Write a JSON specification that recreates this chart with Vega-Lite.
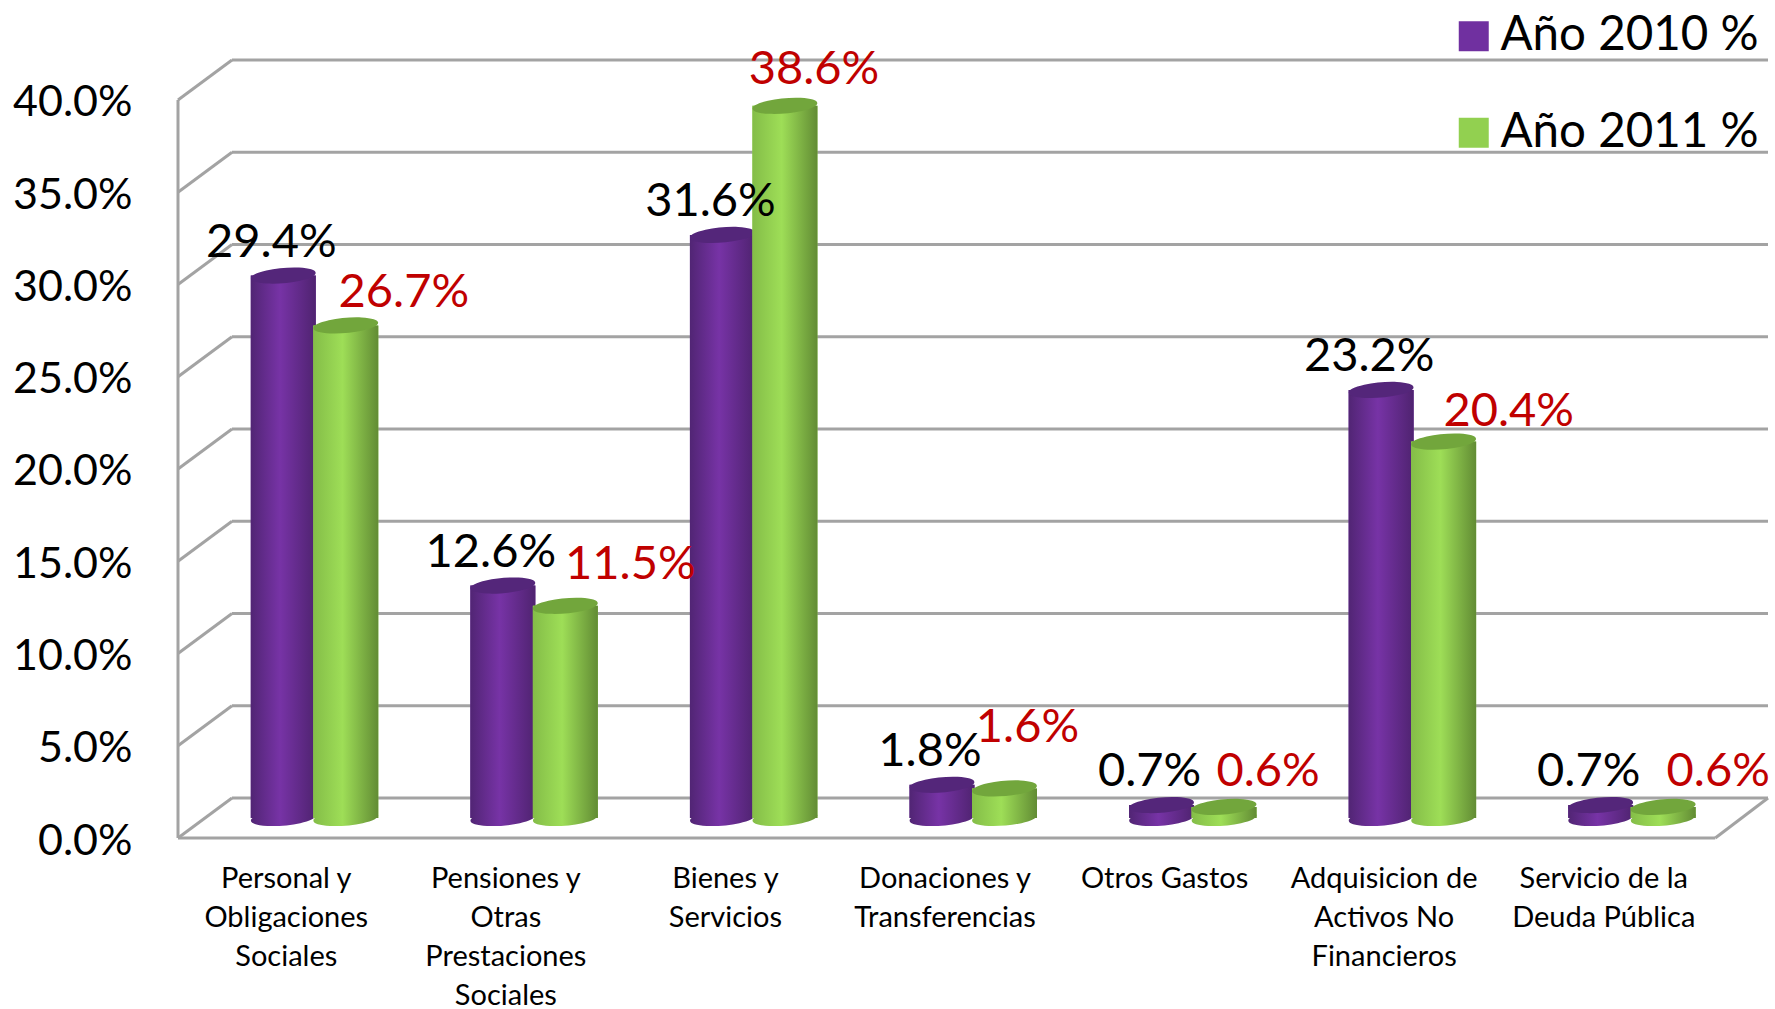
{
"$schema":"https://vega.github.io/schema/vega-lite/v6.json",
"width":1590,"height":778.5,
"autosize":"none",
"padding":{"left":178,"top":59.5,"right":7,"bottom":171},
"background":"white",
"config":{"view":{"stroke":null},"font":"Lato"},
"datasets":{
"valores":[
{"categoria":"Personal y|Obligaciones|Sociales","serie":"Año 2010 %","valor":0.294},
{"categoria":"Pensiones y|Otras|Prestaciones|Sociales","serie":"Año 2010 %","valor":0.126},
{"categoria":"Bienes y|Servicios","serie":"Año 2010 %","valor":0.316},
{"categoria":"Donaciones y|Transferencias","serie":"Año 2010 %","valor":0.018},
{"categoria":"Otros Gastos","serie":"Año 2010 %","valor":0.007},
{"categoria":"Adquisicion de|Activos No|Financieros","serie":"Año 2010 %","valor":0.232},
{"categoria":"Servicio de la|Deuda Pública","serie":"Año 2010 %","valor":0.007},
{"categoria":"Personal y|Obligaciones|Sociales","serie":"Año 2011 %","valor":0.267},
{"categoria":"Pensiones y|Otras|Prestaciones|Sociales","serie":"Año 2011 %","valor":0.115},
{"categoria":"Bienes y|Servicios","serie":"Año 2011 %","valor":0.386},
{"categoria":"Donaciones y|Transferencias","serie":"Año 2011 %","valor":0.016},
{"categoria":"Otros Gastos","serie":"Año 2011 %","valor":0.006},
{"categoria":"Adquisicion de|Activos No|Financieros","serie":"Año 2011 %","valor":0.204},
{"categoria":"Servicio de la|Deuda Pública","serie":"Año 2011 %","valor":0.006}
],
"paredes":[
{"x":0.2459,"x2":7.24,"y":0.02168,"y2":0.02168},
{"x":0.2459,"x2":7.24,"y":0.07168,"y2":0.07168},
{"x":0.2459,"x2":7.24,"y":0.12168,"y2":0.12168},
{"x":0.2459,"x2":7.24,"y":0.17168,"y2":0.17168},
{"x":0.2459,"x2":7.24,"y":0.22168,"y2":0.22168},
{"x":0.2459,"x2":7.24,"y":0.27168,"y2":0.27168},
{"x":0.2459,"x2":7.24,"y":0.32168,"y2":0.32168},
{"x":0.2459,"x2":7.24,"y":0.37168,"y2":0.37168},
{"x":0.2459,"x2":7.24,"y":0.42168,"y2":0.42168},
{"x":0,"x2":0.2459,"y":0,"y2":0.02168},
{"x":0,"x2":0.2459,"y":0.05,"y2":0.07168},
{"x":0,"x2":0.2459,"y":0.10,"y2":0.12168},
{"x":0,"x2":0.2459,"y":0.15,"y2":0.17168},
{"x":0,"x2":0.2459,"y":0.20,"y2":0.22168},
{"x":0,"x2":0.2459,"y":0.25,"y2":0.27168},
{"x":0,"x2":0.2459,"y":0.30,"y2":0.32168},
{"x":0,"x2":0.2459,"y":0.35,"y2":0.37168},
{"x":0,"x2":0.2459,"y":0.40,"y2":0.42168},
{"x":0,"x2":0,"y":0,"y2":0.40},
{"x":0,"x2":7,"y":0,"y2":0},
{"x":7,"x2":7.24,"y":0,"y2":0.02168}
]},
"resolve":{"scale":{"x":"independent","y":"independent"},"axis":{"x":"independent","y":"independent"}},
"layer":[
{"data":{"name":"paredes"},
 "mark":{"type":"rule","color":"#a3a3a3","strokeWidth":3},
 "encoding":{
  "x":{"field":"x","type":"quantitative","axis":null,"scale":{"domain":[0,7.24],"nice":false,"zero":false}},
  "x2":{"field":"x2"},
  "y":{"field":"y","type":"quantitative","scale":{"domain":[0,0.42195],"nice":false},
   "axis":{"title":null,"values":[0,0.05,0.10,0.15,0.20,0.25,0.30,0.35,0.40],"format":".1%","grid":false,"domain":false,"ticks":false,"labelFont":"Lato","labelFontSize":43,"labelColor":"#000000","labelPadding":46,"labelFlush":false,"labelOverlap":false,"labelOffset":3}},
  "y2":{"field":"y2"}}},
{"data":{"name":"valores"},"transform":[{"filter":"datum.serie==='Año 2010 %'"}],
 "mark":{"type":"bar","width":65},
 "encoding":{
  "x":{"field":"categoria","type":"nominal","sort":null,"scale":{"range":[-4.5,1532.5],"paddingInner":0,"paddingOuter":0},
   "axis":{"title":null,"orient":"bottom","domain":false,"ticks":false,"grid":false,"labelAngle":0,"labelAlign":"center","labelBaseline":"top","labelOffset":3,"labelPadding":26,"labelFont":"Lato","labelFontSize":29,"labelColor":"#000000","labelLineHeight":39,"labelLimit":400,"labelOverlap":false,"labelExpr":"split(datum.label,'|')"}},
  "y":{"field":"valor","type":"quantitative","axis":null,"scale":{"domain":[-0.01084,0.41111],"nice":false,"zero":false}},
  "color":{"field":"serie","type":"nominal","scale":{"domain":["Año 2010 %","Año 2011 %"],"range":["#7030a0","#92d050"]},
   "legend":{"title":null,"orient":"none","legendX":1272,"legendY":-47,"symbolType":"square","symbolSize":900,"symbolStrokeWidth":0,"labelFont":"Lato","labelFontSize":47.5,"labelColor":"#000000","labelLimit":400,"rowPadding":47.5,"labelOffset":3,"symbolOpacity":1}}}},
{"data":{"name":"valores"},"transform":[{"filter":"datum.serie==='Año 2010 %'"}],
 "mark":{"type":"point","filled":true,"opacity":1,"size":4225,"shape":"M-0.996,0.087 A1,0.23 -5 1 1 0.996,-0.087 A1,0.23 -5 1 1 -0.996,0.087 Z",
  "fill":{"x1":0,"y1":0,"x2":1,"y2":0,"gradient":"linear","stops":[{"offset":0,"color":"#512574"},{"offset":0.45,"color":"#7733a6"},{"offset":1,"color":"#4f2370"}]}},
 "encoding":{
  "x":{"field":"categoria","type":"nominal","sort":null,"axis":null,"scale":{"type":"band","range":[-4.5,1532.5],"paddingInner":0,"paddingOuter":0}},
  "y":{"datum":0,"type":"quantitative","axis":null,"scale":{"domain":[-0.01084,0.41111],"nice":false,"zero":false}}}},
{"data":{"name":"valores"},"transform":[{"filter":"datum.serie==='Año 2010 %'"}],
 "mark":{"type":"bar","width":65,
  "color":{"x1":0,"y1":0,"x2":1,"y2":0,"gradient":"linear","stops":[{"offset":0,"color":"#512574"},{"offset":0.45,"color":"#7733a6"},{"offset":1,"color":"#4f2370"}]}},
 "encoding":{
  "x":{"field":"categoria","type":"nominal","sort":null,"axis":null,"scale":{"range":[-4.5,1532.5],"paddingInner":0,"paddingOuter":0}},
  "y":{"field":"valor","type":"quantitative","axis":null,"scale":{"domain":[-0.01084,0.41111],"nice":false,"zero":false}}}},
{"data":{"name":"valores"},"transform":[{"filter":"datum.serie==='Año 2010 %'"}],
 "mark":{"type":"point","filled":true,"opacity":1,"size":4225,"color":"#54267a","shape":"M-0.996,0.087 A1,0.23 -5 1 1 0.996,-0.087 A1,0.23 -5 1 1 -0.996,0.087 Z"},
 "encoding":{
  "x":{"field":"categoria","type":"nominal","sort":null,"axis":null,"scale":{"type":"band","range":[-4.5,1532.5],"paddingInner":0,"paddingOuter":0}},
  "y":{"field":"valor","type":"quantitative","axis":null,"scale":{"domain":[-0.01084,0.41111],"nice":false,"zero":false}}}},
{"data":{"name":"valores"},"transform":[{"filter":"datum.serie==='Año 2011 %'"}],
 "mark":{"type":"bar","width":65},
 "encoding":{
  "x":{"field":"categoria","type":"nominal","sort":null,"axis":null,"scale":{"range":[58,1595],"paddingInner":0,"paddingOuter":0}},
  "y":{"field":"valor","type":"quantitative","axis":null,"scale":{"domain":[-0.01084,0.41111],"nice":false,"zero":false}},
  "color":{"field":"serie","type":"nominal","scale":{"domain":["Año 2010 %","Año 2011 %"],"range":["#7030a0","#92d050"]}}}},
{"data":{"name":"valores"},"transform":[{"filter":"datum.serie==='Año 2011 %'"}],
 "mark":{"type":"point","filled":true,"opacity":1,"size":4225,"shape":"M-0.996,0.087 A1,0.23 -5 1 1 0.996,-0.087 A1,0.23 -5 1 1 -0.996,0.087 Z",
  "fill":{"x1":0,"y1":0,"x2":1,"y2":0,"gradient":"linear","stops":[{"offset":0,"color":"#84bd48"},{"offset":0.45,"color":"#9ede57"},{"offset":1,"color":"#628c34"}]}},
 "encoding":{
  "x":{"field":"categoria","type":"nominal","sort":null,"axis":null,"scale":{"type":"band","range":[58,1595],"paddingInner":0,"paddingOuter":0}},
  "y":{"datum":0,"type":"quantitative","axis":null,"scale":{"domain":[-0.01084,0.41111],"nice":false,"zero":false}}}},
{"data":{"name":"valores"},"transform":[{"filter":"datum.serie==='Año 2011 %'"}],
 "mark":{"type":"bar","width":65,
  "color":{"x1":0,"y1":0,"x2":1,"y2":0,"gradient":"linear","stops":[{"offset":0,"color":"#84bd48"},{"offset":0.45,"color":"#9ede57"},{"offset":1,"color":"#628c34"}]}},
 "encoding":{
  "x":{"field":"categoria","type":"nominal","sort":null,"axis":null,"scale":{"range":[58,1595],"paddingInner":0,"paddingOuter":0}},
  "y":{"field":"valor","type":"quantitative","axis":null,"scale":{"domain":[-0.01084,0.41111],"nice":false,"zero":false}}}},
{"data":{"name":"valores"},"transform":[{"filter":"datum.serie==='Año 2011 %'"}],
 "mark":{"type":"point","filled":true,"opacity":1,"size":4225,"color":"#72a63c","shape":"M-0.996,0.087 A1,0.23 -5 1 1 0.996,-0.087 A1,0.23 -5 1 1 -0.996,0.087 Z"},
 "encoding":{
  "x":{"field":"categoria","type":"nominal","sort":null,"axis":null,"scale":{"type":"band","range":[58,1595],"paddingInner":0,"paddingOuter":0}},
  "y":{"field":"valor","type":"quantitative","axis":null,"scale":{"domain":[-0.01084,0.41111],"nice":false,"zero":false}}}},
{"data":{"name":"valores"},"transform":[{"filter":"datum.serie==='Año 2010 %'"}],
 "mark":{"type":"text","font":"Lato","fontSize":47,"color":"#000000","align":"center","baseline":"middle","dx":-12,"dy":-33},
 "encoding":{
  "x":{"field":"categoria","type":"nominal","sort":null,"axis":null,"scale":{"type":"band","range":[-4.5,1532.5],"paddingInner":0,"paddingOuter":0}},
  "y":{"field":"valor","type":"quantitative","axis":null,"scale":{"domain":[-0.01084,0.41111],"nice":false,"zero":false}},
  "text":{"field":"valor","type":"quantitative","format":".1%"}}},
{"data":{"name":"valores"},"transform":[{"filter":"datum.serie==='Año 2011 %'"}],
 "mark":{"type":"text","font":"Lato","fontSize":47,"color":"#c00000","align":"center","baseline":"middle",
  "dx":{"expr":"{'Personal y':58,'Pensiones y':65,'Bienes y':29,'Donaciones y':23,'Otros Gastos':44,'Adquisicion de':65,'Servicio de la':55}[split(datum.categoria,'|')[0]]"},
  "dy":{"expr":"{'Personal y':-32,'Pensiones y':-41,'Bienes y':-36,'Donaciones y':-60,'Otros Gastos':-35,'Adquisicion de':-30,'Servicio de la':-35}[split(datum.categoria,'|')[0]]"}},
 "encoding":{
  "x":{"field":"categoria","type":"nominal","sort":null,"axis":null,"scale":{"type":"band","range":[58,1595],"paddingInner":0,"paddingOuter":0}},
  "y":{"field":"valor","type":"quantitative","axis":null,"scale":{"domain":[-0.01084,0.41111],"nice":false,"zero":false}},
  "text":{"field":"valor","type":"quantitative","format":".1%"}}}
]}
